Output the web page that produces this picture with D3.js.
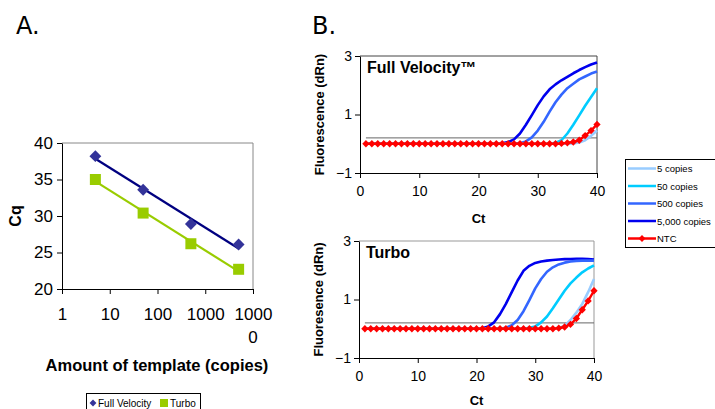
<!DOCTYPE html>
<meta charset="utf-8">
<script src="https://d3js.org/d3.v7.min.js"></script>
<style>
    html, body { margin: 0; padding: 0; background: white; }
    svg { display: block; font-family: "Liberation Sans", Arial, sans-serif; }
    .axis path, .axis line { stroke: black; }
</style>
<body></body>
<script>
    // ---- DATA ----
    // Panel A: standard curve
    const copies = [5, 50, 500, 5000];
    const cqFullVelocity = [38.2, 33.6, 28.9, 26.1];
    const cqTurbo = [35.0, 30.4, 26.2, 22.7];
    const xTicksA = [1, 10, 100, 1000, 10000];
    const yTicksA = [20, 25, 30, 35, 40];

    // Panel B: amplification curves, cycles 1..40
    const cycles = [1,2,3,4,5,6,7,8,9,10,11,12,13,14,15,16,17,18,19,20,
                    21,22,23,24,25,26,27,28,29,30,31,32,33,34,35,36,37,38,39,40];
    const seriesNames = ["5 copies", "50 copies", "500 copies", "5,000 copies", "NTC"];
    const seriesColors = ["#99ccff", "#00ccff", "#3366ff", "#0000ee", "#ff0000"];

    const fv5 = [0,0,0,0,0,0,0,0,0,0,0,0,0,0,0,0,0,0,0,0,
                 0,0,0,0,0,0,0,0,0,0,0,0,0,0,0,0.01,0.04,0.12,0.27,0.45];
    const fv50 = [0,0,0,0,0,0,0,0,0,0,0,0,0,0,0,0,0,0,0,0,
                  0,0,0,0,0,0,0,0,0,0,0,0,0.03,0.12,0.35,0.65,0.97,1.3,1.6,1.9];
    const fv500 = [0,0,0,0,0,0,0,0,0,0,0,0,0,0,0,0,0,0,0,0,
                   0,0,0,0,0,0,0.02,0.08,0.22,0.45,0.75,1.1,1.42,1.68,1.9,2.05,2.2,2.3,2.4,2.47];
    const fv5000 = [0,0,0,0,0,0,0,0,0,0,0,0,0,0,0,0,0,0,0,0,
                    0,0,0,0.02,0.06,0.15,0.35,0.65,0.98,1.32,1.62,1.86,2.03,2.17,2.29,2.41,2.52,2.62,2.71,2.78];
    const fvNtc = [0,0,0,0,0,0,0,0,0,0,0,0,0,0,0,0,0,0,0,0,
                   0,0,0,0,0,0,0,0,0,0,0,0,0,0.01,0.03,0.06,0.12,0.28,0.45,0.66];

    const tb5 = [0,0,0,0,0,0,0,0,0,0,0,0,0,0,0,0,0,0,0,0,
                 0,0,0,0,0,0,0,0,0,0,0,0,0,0.03,0.1,0.3,0.55,0.85,1.25,1.7];
    const tb50 = [0,0,0,0,0,0,0,0,0,0,0,0,0,0,0,0,0,0,0,0,
                  0,0,0,0,0,0,0,0,0.03,0.08,0.22,0.42,0.7,1.0,1.3,1.55,1.75,1.93,2.06,2.17];
    const tb500 = [0,0,0,0,0,0,0,0,0,0,0,0,0,0,0,0,0,0,0,0,
                   0,0,0,0,0.03,0.12,0.3,0.6,0.98,1.38,1.7,1.95,2.1,2.2,2.26,2.3,2.32,2.33,2.33,2.33];
    const tb5000 = [0,0,0,0,0,0,0,0,0,0,0,0,0,0,0,0,0,0,0,0,
                    0.02,0.08,0.22,0.5,0.85,1.25,1.65,1.98,2.15,2.25,2.3,2.33,2.35,2.37,2.38,2.38,2.39,2.39,2.38,2.37];
    const tbNtc = [0,0,0,0,0,0,0,0,0,0,0,0,0,0,0,0,0,0,0,0,
                   0,0,0,0,0,0,0,0,0,0,0,0,0,0.02,0.06,0.15,0.35,0.65,0.95,1.3];

    const threshold = 0.2;
    const xTicksB = [0, 10, 20, 30, 40];
    const yTicksB = [-1, 1, 3];

    // ---- SVG ----
    const width = 715, height = 409;
    const svg = d3.select("body").append("svg")
        .attr("width", width)
        .attr("height", height);

    // panel letters
    svg.append("text").attr("x", 16).attr("y", 34)
        .style("font-family", "'DejaVu Sans', sans-serif").style("font-size", "24px")
        .text("A.");
    svg.append("text").attr("x", 312).attr("y", 34)
        .style("font-family", "'DejaVu Sans', sans-serif").style("font-size", "24px")
        .text("B.");

    // ================= PANEL A =================
    const xA = d3.scaleLog().domain([1, 10000]).range([62, 253]);
    const yA = d3.scaleLinear().domain([20, 40]).range([289, 143]);

    // plot border top/right
    svg.append("path")
        .attr("d", `M${xA(1)},${yA(40)}H${xA(10000)}V${yA(20)}`)
        .attr("fill", "none").attr("stroke", "#888").attr("stroke-width", 1);

    const axisAx = svg.append("g").attr("class", "axis")
        .attr("transform", `translate(0,${yA(20)})`)
        .call(d3.axisBottom(xA).tickValues(xTicksA).tickSize(5).tickSizeOuter(0).tickFormat(""));
    axisAx.selectAll(".tick").append("text")
        .attr("y", 31).attr("text-anchor", "middle").attr("fill", "black")
        .style("font-size", "17px")
        .text(d => d === 10000 ? "1000" : String(d));
    axisAx.append("text")
        .attr("x", xA(10000)).attr("y", 54).attr("text-anchor", "middle").attr("fill", "black")
        .style("font-size", "17px").text("0");

    svg.append("g").attr("class", "axis")
        .attr("transform", `translate(${xA(1)},0)`)
        .call(d3.axisLeft(yA).tickValues(yTicksA).tickSize(5).tickSizeOuter(0).tickPadding(4))
        .selectAll("text").style("font-size", "17px").attr("fill", "black");

    svg.append("text")
        .attr("transform", `translate(21,${(yA(20) + yA(40)) / 2}) rotate(-90)`)
        .attr("text-anchor", "middle").style("font-size", "16px").style("font-weight", "bold")
        .text("Cq");
    svg.append("text")
        .attr("x", 157).attr("y", 371).attr("text-anchor", "middle")
        .style("font-size", "16.5px").style("font-weight", "bold")
        .text("Amount of template (copies)");

    // trend lines (least squares on log10 copies)
    function fitLine(xs, ys) {
        const lx = xs.map(Math.log10);
        const mx = d3.mean(lx), my = d3.mean(ys);
        const slope = d3.sum(lx, (v, i) => (v - mx) * (ys[i] - my)) / d3.sum(lx, v => (v - mx) ** 2);
        return xs.map(x => [x, my + slope * (Math.log10(x) - mx)]);
    }
    const lineA = d3.line().x(d => xA(d[0])).y(d => yA(d[1]));
    const fitFV = fitLine(copies, cqFullVelocity);
    const fitTB = fitLine(copies, cqTurbo);
    svg.append("path").attr("d", lineA([fitFV[0], fitFV[3]]))
        .attr("fill", "none").attr("stroke", "#000080").attr("stroke-width", 2.2);
    svg.append("path").attr("d", lineA([fitTB[0], fitTB[3]]))
        .attr("fill", "none").attr("stroke", "#99cc00").attr("stroke-width", 2.2);

    svg.selectAll(".fvpt").data(copies).join("path")
        .attr("class", "fvpt")
        .attr("transform", (d, i) => `translate(${xA(d)},${yA(cqFullVelocity[i])})`)
        .attr("d", d3.symbol(d3.symbolDiamond2, 90))
        .attr("fill", "#333399");
    svg.selectAll(".tbpt").data(copies).join("rect")
        .attr("class", "tbpt")
        .attr("x", d => xA(d) - 5.5)
        .attr("y", (d, i) => yA(cqTurbo[i]) - 5.5)
        .attr("width", 11).attr("height", 11)
        .attr("fill", "#99cc00");

    // legend A
    const legA = svg.append("g").attr("transform", "translate(86,393)");
    legA.append("rect").attr("x", 0.5).attr("y", 0.5).attr("width", 114).attr("height", 20)
        .attr("fill", "white").attr("stroke", "black").attr("stroke-width", 1);
    legA.append("path").attr("transform", "translate(7,10)")
        .attr("d", d3.symbol(d3.symbolDiamond2, 30)).attr("fill", "#333399");
    legA.append("text").attr("x", 12).attr("y", 14).style("font-size", "10px").text("Full Velocity");
    legA.append("rect").attr("x", 74).attr("y", 6).attr("width", 8).attr("height", 8).attr("fill", "#99cc00");
    legA.append("text").attr("x", 84).attr("y", 14).style("font-size", "10px").text("Turbo");

    // ================= PANEL B =================
    function drawPanel(top, bottom, left, right, title, ylabel, series, borderColor, ctY) {
        const x = d3.scaleLinear().domain([0, 40]).range([left, right]);
        const y = d3.scaleLinear().domain([-1, 3]).range([bottom, top]);

        svg.append("path")
            .attr("d", `M${left},${top}H${right}V${bottom}`)
            .attr("fill", "none").attr("stroke", borderColor).attr("stroke-width", 1);

        svg.append("g").attr("class", "axis")
            .attr("transform", `translate(0,${bottom})`)
            .call(d3.axisBottom(x).tickValues(xTicksB).tickSize(5).tickSizeOuter(0).tickPadding(8))
            .selectAll("text").style("font-size", "14px").attr("fill", "black");
        svg.append("g").attr("class", "axis")
            .attr("transform", `translate(${left},0)`)
            .call(d3.axisLeft(y).tickValues(yTicksB).tickSize(5).tickSizeOuter(0).tickPadding(3)
                .tickFormat(d3.format("d")))
            .selectAll("text").style("font-size", "14px").attr("fill", "black");

        // threshold
        svg.append("line")
            .attr("x1", x(cycles[0])).attr("x2", x(cycles[cycles.length - 1]))
            .attr("y1", y(threshold)).attr("y2", y(threshold))
            .attr("stroke", "#666").attr("stroke-width", 1);

        const line = d3.line().x((d, i) => x(cycles[i])).y(d => y(d));
        // draw 5,000 → 5, then NTC on top
        [3, 2, 1, 0].forEach(k => {
            svg.append("path").attr("d", line(series[k]))
                .attr("fill", "none").attr("stroke", seriesColors[k])
                .attr("stroke-width", 2.6).attr("stroke-linejoin", "round");
        });
        svg.append("path").attr("d", line(series[4]))
            .attr("fill", "none").attr("stroke", seriesColors[4]).attr("stroke-width", 2.4);
        svg.selectAll(null).data(series[4]).join("path")
            .attr("transform", (d, i) => `translate(${x(cycles[i])},${y(d)})`)
            .attr("d", d3.symbol(d3.symbolDiamond2, 34))
            .attr("fill", seriesColors[4]);

        svg.append("text").attr("x", left + 7).attr("y", top + 17)
            .style("font-size", "16px").style("font-weight", "bold").text(title);
        svg.append("text")
            .attr("transform", `translate(${left - 36},${(top + bottom) / 2}) rotate(-90)`)
            .attr("text-anchor", "middle").style("font-size", "13px").style("font-weight", "bold")
            .text(ylabel);
        svg.append("text").attr("x", (left + right) / 2).attr("y", ctY)
            .attr("text-anchor", "middle").style("font-size", "13px").style("font-weight", "bold")
            .text("Ct");
    }

    drawPanel(56, 173, 360, 597, "Full Velocity\u2122", "Fluorescence (dRn)",
        [fv5, fv50, fv500, fv5000, fvNtc], "#444", 223);
    drawPanel(241, 358, 359, 594, "Turbo", "Fluoresence (dRn)",
        [tb5, tb50, tb500, tb5000, tbNtc], "#999", 405);

    // legend B
    const legB = svg.append("g").attr("transform", "translate(625,159)");
    legB.append("rect").attr("x", 0.5).attr("y", 0.5).attr("width", 91).attr("height", 88)
        .attr("fill", "white").attr("stroke", "black").attr("stroke-width", 1);
    seriesNames.forEach((name, i) => {
        const yy = 9.5 + i * 17.5;
        legB.append("line").attr("x1", 3).attr("x2", 31).attr("y1", yy).attr("y2", yy)
            .attr("stroke", seriesColors[i]).attr("stroke-width", 2.5);
        if (i === 4) {
            legB.append("path").attr("transform", `translate(17,${yy})`)
                .attr("d", d3.symbol(d3.symbolDiamond2, 30)).attr("fill", seriesColors[i]);
        }
        legB.append("text").attr("x", 32).attr("y", yy + 3.5)
            .style("font-size", "9.5px").text(name);
    });
</script>
